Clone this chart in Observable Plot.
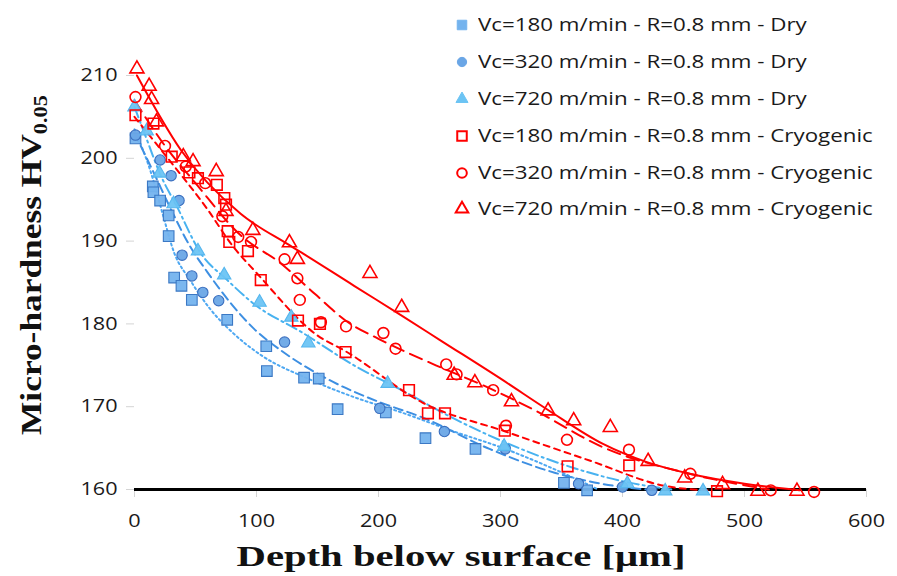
<!DOCTYPE html>
<html><head><meta charset="utf-8">
<script src="https://cdn.jsdelivr.net/npm/d3@7"></script>
<script src="https://cdn.jsdelivr.net/npm/@observablehq/plot@0.6"></script>
<style>
body{margin:0;background:#fff;}
#wrap{position:relative;width:897px;height:576px;overflow:hidden;}
#legend{position:absolute;left:452px;top:6px;font-family:"Open Sans",sans-serif;font-size:18px;color:#1a1a1a;}
.row{display:flex;align-items:center;height:36.8px;white-space:nowrap;}
.row svg{margin-right:6px;flex:none;}
.row span{display:inline-block;transform:scaleX(1.24);transform-origin:0 50%;}
</style></head><body><div id="wrap"></div>
<script>
const seriesNames = [
  "Vc=180 m/min - R=0.8 mm - Dry",
  "Vc=320 m/min - R=0.8 mm - Dry",
  "Vc=720 m/min - R=0.8 mm - Dry",
  "Vc=180 m/min - R=0.8 mm - Cryogenic",
  "Vc=320 m/min - R=0.8 mm - Cryogenic",
  "Vc=720 m/min - R=0.8 mm - Cryogenic"
];
const xTicks = [0, 100, 200, 300, 400, 500, 600];
const yTicks = [160, 170, 180, 190, 200, 210];
const xTitle = "Depth below surface [μm]";
const yTitle = "Micro-hardness HV";
const ySub = "0.05";

// measured points [depth µm, HV0.05]
const dry180 = [[0.8,202.4],[15,196.6],[15.5,195.9],[21,194.9],[28,193.1],[28,190.6],[32.5,185.6],[38.5,184.6],[47,182.9],[76,180.5],[108,177.3],[108.5,174.3],[139,173.5],[151,173.4],[166.5,169.7],[206,169.3],[238.5,166.2],[279.5,164.9],[352,160.8],[371,159.9]];
const dry320 = [[0.8,202.8],[21,199.8],[30,197.9],[36.5,194.9],[39,188.3],[47,185.8],[56,183.8],[69,182.8],[123,177.8],[201,169.8],[254,167],[304,164.9],[364,160.7],[400,160.3],[424,159.9]];
const dry720 = [[0,206.2],[10,203.3],[20.5,198.2],[32,194.5],[52,188.8],[73.5,185.9],[102.5,182.6],[128.5,180.8],[142.5,177.7],[207.5,172.8],[303,165.2],[404,160.7],[435,159.8],[466,159.8]];
const cryo180 = [[0.8,205.2],[15.5,204.2],[30.5,200.2],[45,198.3],[52,197.6],[67.5,196.8],[73.6,195.2],[75,194.4],[76.4,191.2],[77.7,189.9],[93,188.8],[103.5,185.3],[134,180.4],[152,180],[173,176.6],[225,172],[240.5,169.2],[254.5,169.2],[303.5,167.1],[355,162.8],[405.5,162.9],[477.5,159.8]];
const cryo320 = [[0.8,207.4],[25,201.5],[42,199],[58,197],[72,193],[85,190.5],[95.5,189.9],[123,187.8],[133.5,185.5],[135.5,182.9],[152.8,180.2],[173.4,179.7],[204,178.9],[214,177],[255.5,175.1],[264,173.9],[294,172],[304.5,167.7],[354.5,166],[405.3,164.8],[455.6,161.9],[521.5,159.9],[557,159.7]];
const cryo720 = [[2,210.8],[12,208.7],[14,207.1],[18,204.4],[40,200.2],[48,199.6],[67,198.4],[75,193.6],[97,191.3],[127,189.8],[133.5,187.8],[193,186.1],[219,182],[262,173.8],[279,172.9],[309,170.6],[339,169.5],[360,168.3],[390,167.5],[421,163.4],[451,161.4],[482,160.6],[511,159.8],[543,159.8]];

// trend curves
const trendDry180 = [[0,203.5],[13,198.5],[24,192.8],[32,188.8],[46,185.2],[62,181.8],[80,179],[104,176.2],[142,173.4],[181,171.1],[219,169.3],[260,167.1],[302,165],[357,161.6],[380,160]];
const trendDry320 = [[0,203],[15,198.5],[30,193.8],[45,189.5],[60,186.2],[80,182.3],[98,179.4],[120,176.8],[160,173.2],[200,170.6],[236,168.7],[291,164.9],[345,162],[400,160.3],[420,160]];
const trendDry720 = [[0,206.2],[10,202.3],[21,198.1],[35,194.1],[54,188.6],[76,185.3],[98,182.4],[137,179],[181,174.9],[219,172],[260,168.7],[302,165.8],[360,162.6],[400,161],[440,160]];
const trendCryo180 = [[0,205],[30,199.5],[60,193.8],[80,189.5],[101,186],[150,178.6],[173,176.7],[236,170.5],[304,167],[373,163.5],[436,160.4],[470,159.9]];
const trendCryo320 = [[0,207],[25,201.5],[50,197],[87,190.7],[120,187.3],[148,183.6],[175,180.2],[200,178.2],[247,175],[290,172.3],[329,169.5],[384,165.1],[455,161.9],[520,160]];
const trendCryo720 = [[2,210],[38,201],[87,193.3],[126,189.6],[137,188.6],[180,184.6],[219,181],[252,177.9],[302,173.2],[339,169.6],[384,165.5],[420,163.3],[455,161.9],[500,160.7],[545,159.9]];

const styles = [
  {pts: dry180, trend: trendDry180, symbol: "square", r: 6, fill: "#74b3ee", stroke: "#3b78c4", line: "#4ea8f2", dash: "2,3"},
  {pts: dry320, trend: trendDry320, symbol: "circle", r: 5.2, fill: "#6aa6e6", stroke: "#3b6fbf", line: "#3d8fe2", dash: "9,5"},
  {pts: dry720, trend: trendDry720, symbol: "triangle", r: 5, fill: "#6cc4f4", stroke: "#55b6ee", line: "#48b2f0", dash: "11,4,2,4"},
  {pts: cryo180, trend: trendCryo180, symbol: "square", r: 6, fill: "none", stroke: "#ff0000", line: "#ff0000", dash: "6,5"},
  {pts: cryo320, trend: trendCryo320, symbol: "circle", r: 5.4, fill: "none", stroke: "#ff0000", line: "#ff0000", dash: "13,7"},
  {pts: cryo720, trend: trendCryo720, symbol: "triangle", r: 5.2, fill: "none", stroke: "#ff0000", line: "#ff0000", dash: null}
];

const marks = [
  Plot.axisY({ticks: yTicks, tickSize: 8, tickPadding: 9, stroke: "#d4d4d4", fill: "#1a1a1a", fontSize: 18, label: null}),
  Plot.axisX({ticks: xTicks, tickSize: 8, tickPadding: 17, stroke: "#d4d4d4", fill: "#1a1a1a", fontSize: 18, label: null}),
  Plot.ruleY([160], {x1: 0, x2: 600, stroke: "#000", strokeWidth: 3.2})
];
styles.forEach(s => {
  marks.push(Plot.line(s.trend, {x: d => d[0], y: d => d[1], curve: "monotone-x", stroke: s.line, strokeWidth: 2, strokeDasharray: s.dash || undefined}));
});
styles.forEach(s => {
  marks.push(Plot.dot(s.pts, {x: d => d[0], y: d => d[1], symbol: s.symbol, r: s.r, fill: s.fill, stroke: s.stroke, strokeWidth: s.fill === "none" ? 1.6 : 1.1, fillOpacity: 0.95}));
});

const chart = Plot.plot({
  width: 897, height: 576,
  marginLeft: 134, marginRight: 31, marginTop: 75, marginBottom: 87,
  style: {fontFamily: "Open Sans, sans-serif", fontSize: "18px", background: "#fff"},
  x: {domain: [0, 600]},
  y: {domain: [160, 210]},
  marks
});
document.getElementById("wrap").appendChild(chart);

const svg = d3.select(chart);
// widen tick labels like the (horizontally stretched) original
svg.selectAll('g[aria-label="x-axis tick label"] text, g[aria-label="y-axis tick label"] text').each(function() {
  const len = this.getComputedTextLength();
  if (len > 0) { this.setAttribute("textLength", (len * 1.2).toFixed(1)); this.setAttribute("lengthAdjust", "spacingAndGlyphs"); }
});

// axis titles
svg.append("text")
  .attr("x", 461).attr("y", 566)
  .attr("text-anchor", "middle")
  .attr("textLength", 449).attr("lengthAdjust", "spacingAndGlyphs")
  .style("font-family", "'Liberation Serif', serif").style("font-weight", "bold").style("font-size", "30px").style("fill", "#111")
  .text(xTitle);
const yt = svg.append("text")
  .attr("transform", "translate(41,265) rotate(-90)")
  .attr("text-anchor", "middle")
  .attr("textLength", 340).attr("lengthAdjust", "spacingAndGlyphs")
  .style("font-family", "'Liberation Serif', serif").style("font-weight", "bold").style("font-size", "30px").style("fill", "#111");
yt.append("tspan").text(yTitle);
yt.append("tspan").attr("dy", 6).style("font-size", "19px").text(ySub);

// legend
const leg = d3.select("#wrap").append("div").attr("id", "legend");
styles.forEach((s, i) => {
  const row = leg.append("div").attr("class", "row");
  const sv = row.append("svg").attr("width", 20).attr("height", 20);
  const sym = {square: d3.symbolSquare, circle: d3.symbolCircle, triangle: d3.symbolTriangle}[s.symbol];
  sv.append("path").attr("transform", "translate(10,11)")
    .attr("d", d3.symbol(sym, s.r * s.r * Math.PI * 0.8)())
    .attr("fill", s.fill === "none" ? "none" : s.fill)
    .attr("stroke", s.fill === "none" ? s.stroke : s.fill)
    .attr("stroke-width", s.fill === "none" ? 2 : 1);
  row.append("span").text(seriesNames[i]);
});
</script></body></html>
